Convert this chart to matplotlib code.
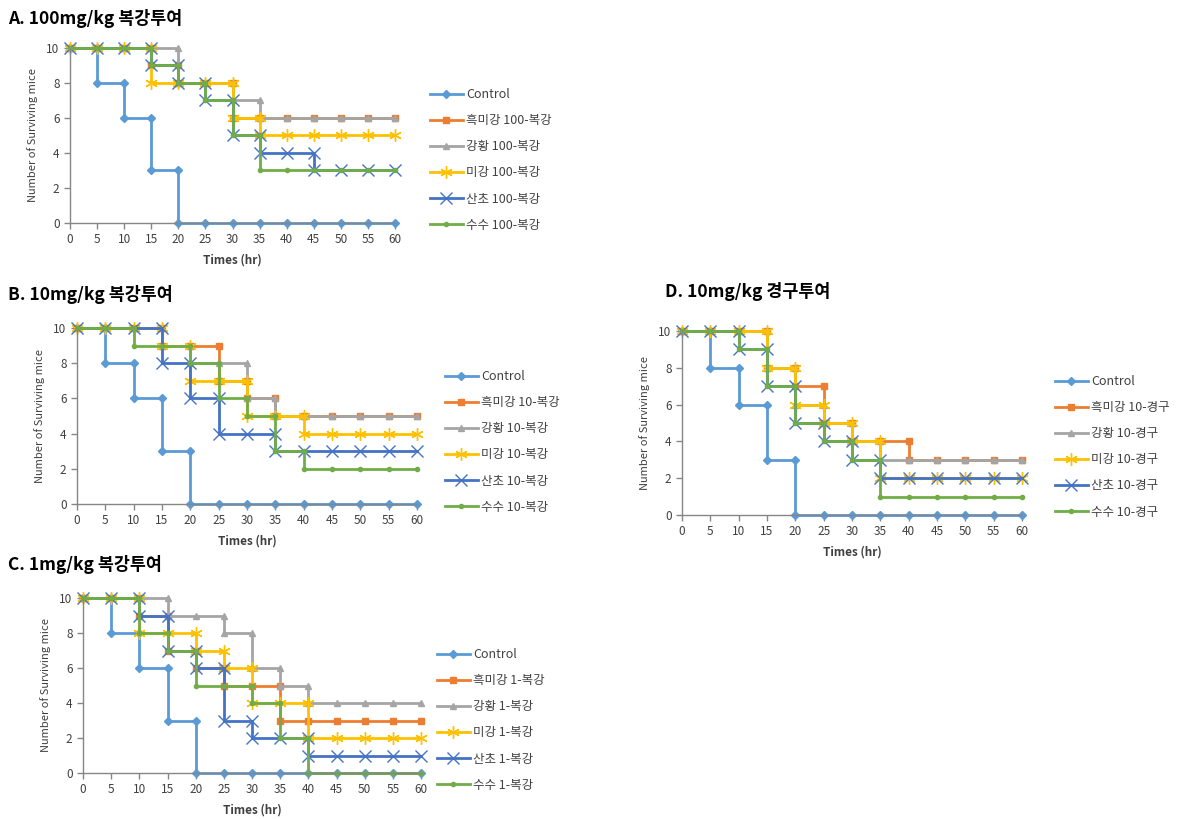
import matplotlib
matplotlib.use("Agg")
import matplotlib.pyplot as plt
import numpy as np

plt.rcParams['font.family'] = ['Noto Sans CJK KR', 'DejaVu Sans']

times = np.arange(0, 61, 5)
groups = ['Control', '흑미강', '강황', '미강', '산초', '수수']
colors = ['#5B9BD5', '#ED7D31', '#A5A5A5', '#FFC000', '#4472C4', '#70AD47']
markers = ['D', 's', '^', (6, 2, 0), 'x', 'o']
msizes = [4, 5, 5, 9, 9, 3]

control = [10, 8, 6, 3, 0, 0, 0, 0, 0, 0, 0, 0, 0]

# surviving mice per time point, one list per treatment
a_vals = [control,
          [10, 10, 10, 9, 8, 8, 6, 6, 6, 6, 6, 6, 6],
          [10, 10, 10, 10, 8, 8, 7, 6, 6, 6, 6, 6, 6],
          [10, 10, 10, 8, 8, 8, 6, 5, 5, 5, 5, 5, 5],
          [10, 10, 10, 9, 8, 7, 5, 4, 4, 3, 3, 3, 3],
          [10, 10, 10, 9, 8, 7, 5, 3, 3, 3, 3, 3, 3]]
b_vals = [control,
          [10, 10, 10, 9, 9, 7, 6, 5, 5, 5, 5, 5, 5],
          [10, 10, 10, 9, 8, 8, 6, 5, 5, 5, 5, 5, 5],
          [10, 10, 10, 9, 7, 7, 5, 5, 4, 4, 4, 4, 4],
          [10, 10, 10, 8, 6, 4, 4, 3, 3, 3, 3, 3, 3],
          [10, 10, 9, 9, 8, 6, 5, 3, 2, 2, 2, 2, 2]]
c_vals = [control,
          [10, 10, 9, 7, 6, 5, 5, 3, 3, 3, 3, 3, 3],
          [10, 10, 10, 9, 9, 8, 6, 5, 4, 4, 4, 4, 4],
          [10, 10, 8, 8, 7, 6, 4, 4, 2, 2, 2, 2, 2],
          [10, 10, 9, 7, 6, 3, 2, 2, 1, 1, 1, 1, 1],
          [10, 10, 8, 7, 5, 5, 4, 2, 0, 0, 0, 0, 0]]
d_vals = [control,
          [10, 10, 10, 8, 7, 5, 4, 4, 3, 3, 3, 3, 3],
          [10, 10, 10, 8, 6, 5, 4, 3, 3, 3, 3, 3, 3],
          [10, 10, 10, 8, 6, 5, 4, 2, 2, 2, 2, 2, 2],
          [10, 10, 9, 7, 5, 4, 3, 2, 2, 2, 2, 2, 2],
          [10, 10, 9, 7, 5, 4, 3, 1, 1, 1, 1, 1, 1]]

panels = [
    ('A. 100mg/kg 복강투여', a_vals, '100-복강'),
    ('B. 10mg/kg 복강투여', b_vals, '10-복강'),
    ('C. 1mg/kg 복강투여', c_vals, '1-복강'),
    ('D. 10mg/kg 경구투여', d_vals, '10-경구'),
]

# layout in pixels: axes (left, top, right, bottom), title xy, legend top-left
W, H = 1193, 819
boxes = [(70, 48, 395, 223), (77, 328, 417, 504), (83, 598, 421, 773), (682, 331, 1022, 515)]
title_xy = [(8, 18), (8, 295), (8, 565), (665, 291)]
legend_xy = [(425, 83), (440, 365), (432, 643), (1050, 370)]


def step_points(vals):
    xs, ys = [times[0]], [vals[0]]
    for t, prev, v in zip(times[1:], vals[:-1], vals[1:]):
        if v != prev:
            xs.append(t)
            ys.append(prev)
        xs.append(t)
        ys.append(v)
    return xs, ys


fig = plt.figure(figsize=(W / 100, H / 100), dpi=100)

for (title, vals, suffix), (l, t, r, b), (tx, ty), (lx, ly) in zip(panels, boxes, title_xy, legend_xy):
    ax = fig.add_axes([l / W, 1 - b / H, (r - l) / W, (b - t) / H])
    handles = []
    for i, v in enumerate(vals):
        xs, ys = step_points(v)
        label = 'Control' if i == 0 else f'{groups[i]} {suffix}'
        h, = ax.plot(xs, ys, color=colors[i], lw=2.0, marker=markers[i], ms=msizes[i],
                     mew=1.0, clip_on=False, label=label, zorder=2 + i * 0.1)
        handles.append(h)
    ax.set_xlim(0, 60)
    ax.set_ylim(0, 10)
    ax.set_xticks(times)
    ax.set_yticks(range(0, 11, 2))
    for s in ['top', 'right']:
        ax.spines[s].set_visible(False)
    for s in ['left', 'bottom']:
        ax.spines[s].set_color('#868686')
        ax.spines[s].set_linewidth(1.0)
    ax.tick_params(colors='#868686', labelcolor='#404040', labelsize=8.5, length=4, width=1)
    ax.set_xlabel('Times (hr)', fontsize=8.5, fontweight='bold', color='#404040', labelpad=5)
    ax.set_ylabel('Number of Surviving mice', fontsize=8, color='#404040', labelpad=6)
    fig.text(tx / W, 1 - ty / H, title, fontsize=12.5, fontweight='bold', va='center', ha='left')
    fig.legend(handles=handles, loc='upper left', bbox_to_anchor=(lx / W, 1 - ly / H),
               frameon=False, fontsize=9, handlelength=2.6, labelspacing=1.05,
               handletextpad=0.3, borderaxespad=0, labelcolor='#404040')

fig.savefig('out.png', dpi=100)
